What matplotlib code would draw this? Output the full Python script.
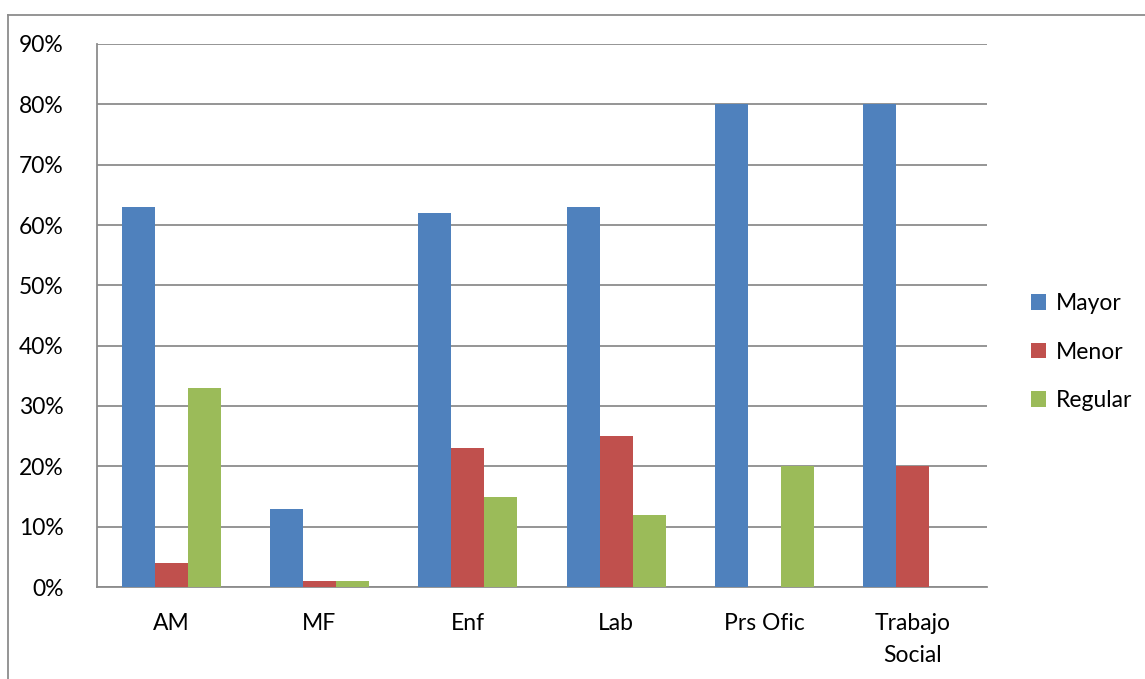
import matplotlib
matplotlib.use("Agg")
import matplotlib.pyplot as plt
import numpy as np
from matplotlib.lines import Line2D

plt.rcParams['font.family'] = ['Lato', 'DejaVu Sans']

categories = ["AM", "MF", "Enf", "Lab", "Prs Ofic", "Trabajo\nSocial"]
mayor = [63, 13, 62, 63, 80, 80]
menor = [4, 1, 23, 25, 0, 20]
regular = [33, 1, 15, 12, 20, 0]
series_names = ["Mayor", "Menor", "Regular"]
colors = ["#4F81BD", "#C0504D", "#9BBB59"]
yticks = [0, 10, 20, 30, 40, 50, 60, 70, 80, 90]

W, H = 1145, 679
fig = plt.figure(figsize=(W / 100, H / 100), dpi=100)
ax = fig.add_axes([97 / W, 1 - 587 / H, (987 - 97) / W, (587 - 44) / H])

x = np.arange(len(categories))
bw = 0.6 / 2.7  # bar width for a 150% gap
for i, (vals, c, name) in enumerate(zip([mayor, menor, regular], colors, series_names)):
    ax.bar(x + (i - 1) * bw, vals, width=bw, color=c, label=name, zorder=3)

fs = 16.5
ax.set_xlim(-0.5, len(categories) - 0.5)
ax.set_ylim(0, 90)
ax.set_yticks(yticks)
ax.set_yticklabels([f"{v}%" for v in yticks], fontsize=fs)
ax.set_xticks(x)
ax.set_xticklabels(categories, fontsize=fs, linespacing=1.6)
ax.tick_params(axis='both', length=0)
ax.tick_params(axis='y', pad=24)
ax.tick_params(axis='x', pad=19)
ax.grid(axis='y', color='#8C8C8C', linewidth=1.3, zorder=0)
for s in ['top', 'right']:
    ax.spines[s].set_visible(False)
for s in ['left', 'bottom']:
    ax.spines[s].set_color('#8C8C8C')
    ax.spines[s].set_linewidth(1.3)

leg = fig.legend(loc='center left', bbox_to_anchor=(1010 / W, 1 - 352 / H),
                 frameon=False, fontsize=fs, handlelength=0.65, handleheight=0.65,
                 handletextpad=0.45, labelspacing=1.2)

# chart frame
fig.add_artist(Line2D([8 / W, 8 / W], [0, 1 - 15 / H], color='#8C8C8C', lw=1.3,
                      transform=fig.transFigure))
fig.add_artist(Line2D([8 / W, 1], [1 - 15 / H, 1 - 15 / H], color='#8C8C8C', lw=1.3,
                      transform=fig.transFigure))

fig.savefig("out.png", dpi=100)
